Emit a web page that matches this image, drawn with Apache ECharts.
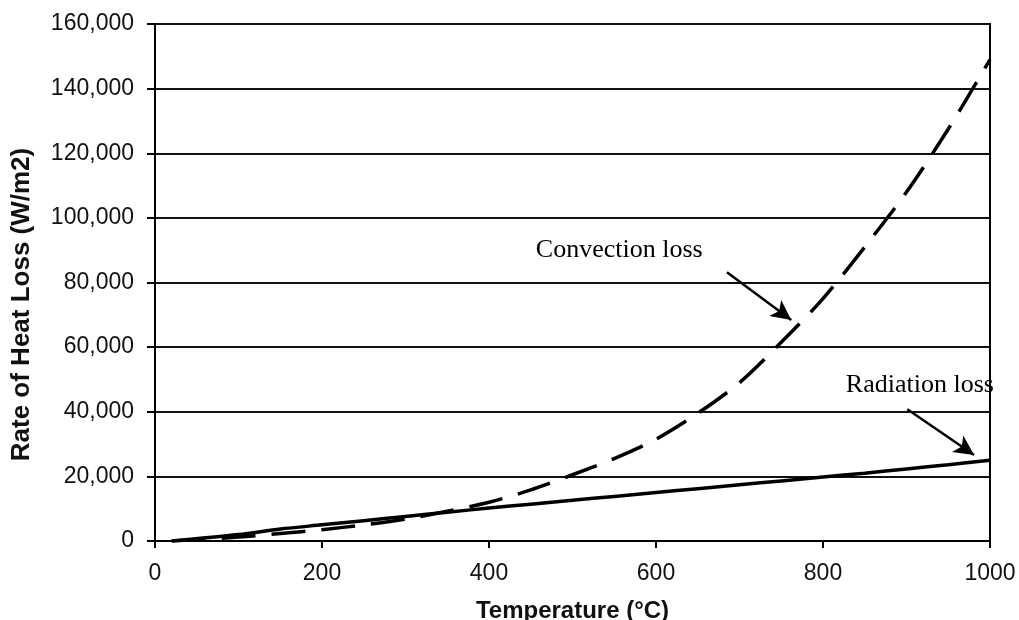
<!DOCTYPE html>
<html>
<head>
<meta charset="utf-8">
<script src="https://cdn.jsdelivr.net/npm/echarts@6/dist/echarts.min.js"></script>
<style>
html,body{margin:0;padding:0;background:#fff;}
#chart{width:1019px;height:620px;}
</style>
</head>
<body>
<div id="chart"></div>
<script>
// Temperature (°C) and heat-loss values (W/m2)
var temps = [20, 100, 150, 200, 250, 300, 350, 400, 450, 500, 550, 600, 650, 700, 750, 800, 850, 900, 950, 1000];
var convection = [0, 1200, 2300, 3500, 5000, 6800, 9200, 12000, 15800, 20500, 25500, 31500, 39500, 49000, 61500, 75000, 91000, 108000, 127500, 149000];
var radiation = [0, 2000, 3700, 5000, 6300, 7600, 8900, 10200, 11400, 12600, 13800, 15000, 16200, 17400, 18600, 19800, 21000, 22300, 23600, 25000];

var xTicks = [0, 200, 400, 600, 800, 1000];
var yTicks = [0, 20000, 40000, 60000, 80000, 100000, 120000, 140000, 160000];

var xName = 'Temperature (°C)';
var yName = 'Rate of Heat Loss (W/m2)';

// annotations: label anchor and arrow (start -> tip) in data units
var convLabel = { text: 'Convection loss', at: [556, 90000] };
var convArrow = [[685, 83200], [762, 68400]];
var radLabel = { text: 'Radiation loss', at: [916, 48300] };
var radArrow = [[901, 40800], [981, 26600]];

function pair(a, b) { return a.map(function (v, i) { return [v, b[i]]; }); }

var chart = echarts.init(document.getElementById('chart'), null, { renderer: 'canvas' });

function arrowLine(arr) {
  return {
    silent: true,
    symbol: ['none', 'arrow'],
    symbolSize: [15, 20],
    lineStyle: { type: 'solid', color: '#000', width: 2.5 },
    label: { show: false },
    data: [[{ coord: arr[0] }, { coord: arr[1] }]]
  };
}
function textPoint(lbl) {
  return {
    silent: true,
    symbol: 'circle',
    symbolSize: 0,
    label: {
      show: true,
      position: 'inside',
      formatter: lbl.text,
      fontFamily: '"Liberation Serif", "Times New Roman", serif',
      fontSize: 26,
      color: '#000'
    },
    data: [{ coord: lbl.at }]
  };
}

var sans = '"Liberation Sans", Arial, sans-serif';

var option = {
  animation: false,
  backgroundColor: '#fff',
  grid: {
    left: 155, right: 29, top: 24, bottom: 79,
    outerBoundsMode: 'none',
    containLabel: false,
    show: true, borderColor: '#000', borderWidth: 2, backgroundColor: 'transparent'
  },
  xAxis: {
    type: 'value',
    min: 0, max: 1000, interval: 200,
    name: xName,
    nameLocation: 'middle',
    nameGap: 58,
    nameTextStyle: { fontFamily: sans, fontWeight: 'bold', fontSize: 24, color: '#111' },
    axisLine: { show: true, lineStyle: { color: '#000', width: 2 } },
    axisTick: { show: true, inside: false, length: 7, lineStyle: { color: '#000', width: 2 } },
    axisLabel: {
      margin: 21,
      fontFamily: sans, fontSize: 23, color: '#111',
      formatter: function (v) { return xTicks.indexOf(v) >= 0 ? String(v) : ''; }
    },
    splitLine: { show: false }
  },
  yAxis: {
    type: 'value',
    min: 0, max: 160000, interval: 20000,
    name: yName,
    nameLocation: 'middle',
    nameGap: 120,
    nameTextStyle: { fontFamily: sans, fontWeight: 'bold', fontSize: 26, color: '#111', padding: [0, 44, 0, 0] },
    axisLine: { show: true, lineStyle: { color: '#000', width: 2 } },
    axisTick: { show: true, inside: false, length: 8, lineStyle: { color: '#000', width: 2 } },
    axisLabel: {
      margin: 21,
      fontFamily: sans, fontSize: 23, color: '#111',
      formatter: function (v) { return yTicks.indexOf(v) >= 0 ? v.toLocaleString('en-US') : ''; }
    },
    splitLine: { show: true, lineStyle: { color: '#111', width: 2 } }
  },
  series: [
    {
      name: 'Convection loss',
      type: 'line',
      data: pair(temps, convection),
      smooth: 0.3,
      showSymbol: false,
      symbol: 'none',
      lineStyle: { color: '#000', width: 3.5, type: [34, 16] },
      markLine: arrowLine(convArrow),
      markPoint: textPoint(convLabel),
      z: 3
    },
    {
      name: 'Radiation loss',
      type: 'line',
      data: pair(temps, radiation),
      smooth: 0.3,
      showSymbol: false,
      symbol: 'none',
      lineStyle: { color: '#000', width: 3.5, type: 'solid' },
      markLine: arrowLine(radArrow),
      markPoint: textPoint(radLabel),
      z: 3
    }
  ]
};
chart.setOption(option);
</script>
</body>
</html>
